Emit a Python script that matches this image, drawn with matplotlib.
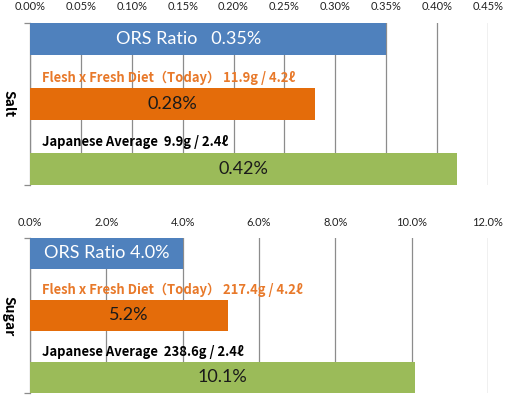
import matplotlib.pyplot as plt
from matplotlib.ticker import FuncFormatter

# data
categories = ["ORS", "Flesh x Fresh Diet", "Japanese Average"]
salt_values = [0.35, 0.28, 0.42]
sugar_values = [4.0, 5.2, 10.1]
salt_labels = [None, "Flesh x Fresh Diet（Today） 11.9g / 4.2ℓ", "Japanese Average  9.9g / 2.4ℓ"]
sugar_labels = [None, "Flesh x Fresh Diet（Today） 217.4g / 4.2ℓ", "Japanese Average  238.6g / 2.4ℓ"]
salt_bar_text = ["ORS Ratio   0.35%", "0.28%", "0.42%"]
sugar_bar_text = ["ORS Ratio 4.0%", "5.2%", "10.1%"]
salt_ticks = [0.00, 0.05, 0.10, 0.15, 0.20, 0.25, 0.30, 0.35, 0.40, 0.45]
sugar_ticks = [0.0, 2.0, 4.0, 6.0, 8.0, 10.0, 12.0]

bar_colors = ["#4F81BD", "#E46C0A", "#9BBB59"]
label_colors = [None, "#E8792A", "#000000"]
text_colors = ["white", "#1a1a1a", "#1a1a1a"]
grid_color = "#8C8C8C"
num_font = "Lato"
lab_font = ["Noto Sans CJK JP", "DejaVu Sans"]


def draw_panel(ax, values, ticks, fmt, labels, bar_text, name, name_y, pad):
    y = list(range(len(values)))
    ax.barh(y, values, height=0.5, color=bar_colors, zorder=3)
    ax.set_ylim(len(values) - 0.75, -0.25)
    ax.set_xlim(ticks[0], ticks[-1])
    ax.set_xticks(ticks)
    ax.xaxis.set_major_formatter(FuncFormatter(lambda v, p: fmt.format(v)))
    ax.xaxis.tick_top()
    ax.tick_params(axis="x", length=0, pad=pad, labelsize=8, colors="#222222")
    for t in ax.get_xticklabels():
        t.set_fontfamily(num_font)
    ax.grid(axis="x", color=grid_color, linewidth=0.9, zorder=0)
    ax.set_yticks([len(values) - 0.75, -0.25])
    ax.set_yticklabels([])
    ax.tick_params(axis="y", length=4, width=0.9, color=grid_color)
    for s in ["top", "right", "bottom"]:
        ax.spines[s].set_visible(False)
    ax.spines["left"].set_color(grid_color)
    ax.spines["left"].set_linewidth(0.9)

    for i, v in enumerate(values):
        cx = v / 2
        if i == 0 and name == "Salt":
            cx = v * 0.445
        ax.text(cx, i, bar_text[i], ha="center", va="center", fontsize=13,
                color=text_colors[i], family=num_font, zorder=4)
        if labels[i]:
            ax.text(0.026, i - 0.41, labels[i], transform=ax.get_yaxis_transform(),
                    ha="left", va="center", fontsize=9.4, fontweight="bold",
                    color=label_colors[i], family=lab_font, zorder=4)

    ax.figure.text(8 / 506, name_y, name, rotation=270, ha="center", va="center",
                   fontsize=10, fontweight="bold", family=lab_font)


fig = plt.figure(figsize=(5.06, 3.99), dpi=100)
ax1 = fig.add_axes([30 / 506, 1 - 185 / 399, 458 / 506, 162 / 399])
ax2 = fig.add_axes([30 / 506, 1 - 393 / 399, 458 / 506, 155 / 399])

draw_panel(ax1, salt_values, salt_ticks, "{:.2f}%", salt_labels, salt_bar_text,
           "Salt", 1 - 104 / 399, 8)
draw_panel(ax2, sugar_values, sugar_ticks, "{:.1f}%", sugar_labels, sugar_bar_text,
           "Sugar", 1 - 316 / 399, 7)

fig.savefig("out.png", dpi=100)
